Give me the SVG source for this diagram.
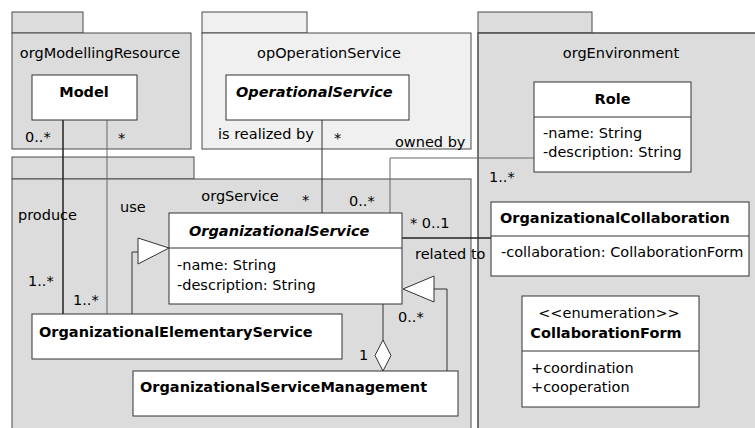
<svg xmlns="http://www.w3.org/2000/svg" width="755" height="428" viewBox="0 0 755 428">
<style>
text{font-family:"DejaVu Sans","Liberation Sans",sans-serif;font-size:14.5px;fill:#000}
.b{font-weight:bold}
.bi{font-weight:bold;font-style:italic}
.c{text-anchor:middle}
.pkg{fill:#dcdcdc;stroke:#4a4a4a;stroke-width:1}
.pkgl{fill:#f0f0f0;stroke:#4a4a4a;stroke-width:1}
.cls{fill:#fff;stroke:#333;stroke-width:1}
.ln{fill:none;stroke:#333;stroke-width:1}
.lnd{fill:none;stroke:#222;stroke-width:1.5}
.lng{fill:none;stroke:#666;stroke-width:1}
.hd{fill:#fff;stroke:#333;stroke-width:1}
</style>
<rect width="755" height="428" fill="#fff"/>
<g id="orgModellingResource">
<rect class="pkg" x="12" y="12" width="71" height="21"/>
<rect class="pkg" x="12" y="33" width="179" height="116"/>
<text class="c" x="100" y="58">orgModellingResource</text>
</g>
<g id="opOperationService">
<rect class="pkgl" x="202" y="12" width="105" height="21"/>
<rect class="pkgl" x="202" y="33" width="269" height="116"/>
<text class="c" x="329" y="58">opOperationService</text>
</g>
<g id="orgEnvironment">
<rect class="pkg" x="478" y="12" width="114" height="21"/>
<rect class="pkg" x="478" y="33" width="290" height="410" style="stroke-width:1.5"/>
<text class="c" x="621" y="58">orgEnvironment</text>
</g>
<g id="orgService">
<rect class="pkg" x="12" y="157" width="182" height="22"/>
<rect class="pkg" x="12" y="179" width="459" height="260"/>
<text class="c" x="240" y="201">orgService</text>
</g>
<g id="connectors">
<path class="lnd" d="M63 120V314"/>
<path class="lng" d="M107 120V314"/>
<path class="ln" d="M322 120V213"/>
<path class="lng" d="M534 158H390V213"/>
<path class="lnd" d="M402 238H491"/>
<path class="ln" d="M132 314V252H138"/>
<polygon class="hd" points="138,238 169,248 138,264"/>
<path class="ln" d="M434 289H447V371"/>
<polygon class="hd" points="434,276 403,289 434,302"/>
<path class="ln" d="M383 304V340"/>
<polygon class="hd" points="383,340 391,355.5 383,371 375,355.5"/>
<text x="25" y="142">0..*</text>
<text x="118" y="143">*</text>
<text x="218" y="139">is realized by</text>
<text x="334" y="143">*</text>
<text x="395" y="147">owned by</text>
<text x="18" y="220">produce</text>
<text x="120" y="212">use</text>
<text x="302" y="205">*</text>
<text x="349" y="206">0..*</text>
<text x="410" y="228">* 0..1</text>
<text x="415" y="259">related to</text>
<text x="489" y="182">1..*</text>
<text x="28" y="286">1..*</text>
<text x="73" y="305">1..*</text>
<text x="398" y="322">0..*</text>
<text x="359" y="360">1</text>
</g>
<g id="Model">
<rect class="cls" x="32" y="75" width="105" height="45"/>
<text class="b c" x="84" y="97">Model</text>
</g>
<g id="OperationalService">
<rect class="cls" x="226" y="75" width="183" height="45"/>
<text class="bi" x="236" y="97">OperationalService</text>
</g>
<g id="Role">
<rect class="cls" x="534" y="82" width="157" height="90"/>
<path class="ln" d="M534 117H691"/>
<text class="b c" x="612.5" y="104">Role</text>
<text x="543" y="138">-name: String</text>
<text x="543" y="157">-description: String</text>
</g>
<g id="OrganizationalService">
<rect class="cls" x="169" y="213" width="233" height="91"/>
<path class="ln" d="M169 248H402"/>
<text class="bi" x="189" y="236">OrganizationalService</text>
<text x="177" y="270">-name: String</text>
<text x="177" y="290">-description: String</text>
</g>
<g id="OrganizationalCollaboration">
<rect class="cls" x="491" y="202" width="258" height="74"/>
<path class="ln" d="M491 236H749"/>
<text class="b" x="500" y="223">OrganizationalCollaboration</text>
<text x="501" y="257">-collaboration: CollaborationForm</text>
</g>
<g id="OrganizationalElementaryService">
<rect class="cls" x="32" y="314" width="310" height="45"/>
<text class="b" x="39" y="337">OrganizationalElementaryService</text>
</g>
<g id="OrganizationalServiceManagement">
<rect class="cls" x="133" y="371" width="325" height="45"/>
<text class="b" x="140" y="392">OrganizationalServiceManagement</text>
</g>
<g id="CollaborationForm">
<rect class="cls" x="522" y="296" width="177" height="111"/>
<path class="ln" d="M522 351H699"/>
<text class="c" x="609" y="318">&lt;&lt;enumeration&gt;&gt;</text>
<text class="b c" x="606" y="338">CollaborationForm</text>
<text x="531" y="373">+coordination</text>
<text x="531" y="392">+cooperation</text>
</g>
</svg>
